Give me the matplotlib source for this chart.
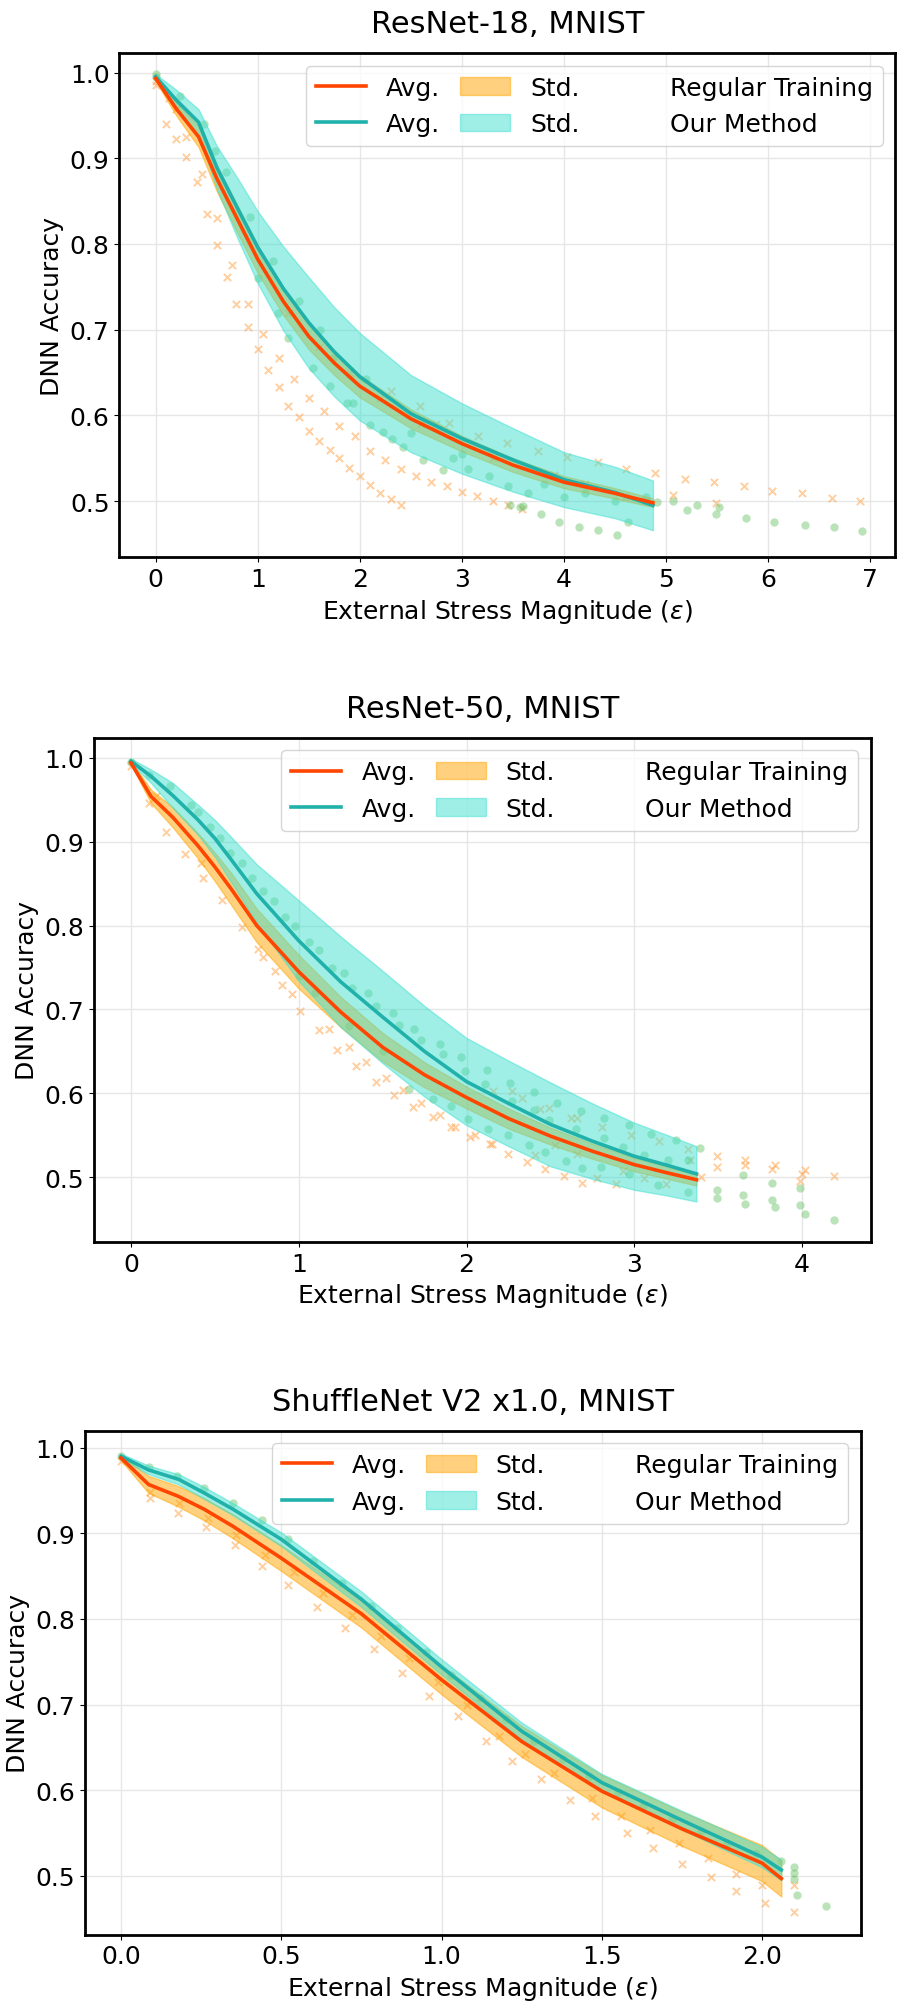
import matplotlib
matplotlib.use('Agg')
import matplotlib.pyplot as plt
from matplotlib.lines import Line2D
from matplotlib.patches import Patch
import numpy as np

plt.rcParams['font.family'] = ['DejaVu Sans']
plt.rcParams['font.size'] = 18

RED = '#FF4500'
TEAL = '#20B2AA'
ORANGE_FILL = '#FFA500'
TEAL_FILL = '#40E0D0'
X_COLOR = '#FFA040'
DOT_COLOR = '#66C266'

# ---------------- ResNet-18 ----------------
r18_x = [0, 0.2, 0.42, 0.6, 0.8, 1.0, 1.25, 1.5, 1.75, 2.0, 2.5, 3.0, 3.5, 4.0, 4.5, 4.87]
r18_reg_mean = [0.993, 0.958, 0.925, 0.876, 0.829, 0.782, 0.733, 0.692, 0.661, 0.634, 0.596, 0.567, 0.542, 0.522, 0.509, 0.498]
r18_reg_std = [0.003, 0.008, 0.012, 0.015, 0.016, 0.016, 0.016, 0.015, 0.014, 0.013, 0.011, 0.009, 0.008, 0.007, 0.006, 0.005]
r18_our_mean = [0.995, 0.968, 0.942, 0.889, 0.842, 0.796, 0.748, 0.708, 0.674, 0.645, 0.602, 0.573, 0.548, 0.525, 0.510, 0.495]
r18_our_std = [0.003, 0.012, 0.015, 0.025, 0.035, 0.042, 0.049, 0.053, 0.052, 0.051, 0.045, 0.041, 0.037, 0.032, 0.030, 0.029]

r18_reg_pts_x = [0.0, 0.0, 0.10, 0.13, 0.2, 0.20, 0.30, 0.30, 0.40, 0.45, 0.50, 0.60, 0.60, 0.70, 0.75,
                 0.79, 0.90, 0.90, 1.0, 1.05, 1.10, 1.21, 1.21, 1.30, 1.35, 1.40, 1.50, 1.50, 1.60, 1.65,
                 1.71, 1.80, 1.80, 1.89, 1.95, 2.0, 2.10, 2.10, 2.20, 2.25, 2.30, 2.30, 2.40, 2.40, 2.55,
                 2.59, 2.70, 2.75, 2.85, 2.87, 3.0, 3.15, 3.16, 3.30, 3.44, 3.45, 3.59, 3.74, 4.03, 4.33,
                 4.61, 4.89, 5.07, 5.18, 5.47, 5.49, 5.76, 6.04, 6.33, 6.62, 6.90,
                 1.3, 1.6, 1.9, 2.2, 2.6, 3.3, 3.9, 4.2, 4.6, 4.8]
r18_reg_pts_y = [0.990, 0.985, 0.940, 0.970, 0.958, 0.922, 0.925, 0.901, 0.872, 0.882, 0.835, 0.830, 0.799, 0.761, 0.775,
                 0.730, 0.730, 0.703, 0.677, 0.695, 0.653, 0.667, 0.633, 0.611, 0.642, 0.598, 0.620, 0.582, 0.570, 0.605,
                 0.560, 0.588, 0.550, 0.539, 0.576, 0.529, 0.558, 0.519, 0.509, 0.548, 0.502, 0.628, 0.495, 0.538, 0.529,
                 0.611, 0.522, 0.590, 0.518, 0.591, 0.511, 0.506, 0.576, 0.500, 0.568, 0.495, 0.491, 0.558, 0.551, 0.546,
                 0.538, 0.533, 0.507, 0.526, 0.522, 0.498, 0.518, 0.512, 0.509, 0.504, 0.500,
                 0.720, 0.680, 0.650, 0.620, 0.590, 0.550, 0.530, 0.520, 0.505, 0.500]
r18_our_pts_x = [0.0, 0.0, 0.24, 0.47, 0.58, 0.69, 0.92, 1.15, 1.40, 1.54, 1.61, 1.71, 1.74, 1.87, 1.93,
                 2.06, 2.10, 2.23, 2.31, 2.42, 2.62, 2.81, 2.91, 3.06, 3.26, 3.45, 3.47, 3.57, 3.60, 3.65,
                 3.77, 3.95, 4.15, 4.33, 4.52, 4.63, 4.91, 5.07, 5.20, 5.30, 5.49, 5.52, 5.78, 6.06, 6.36,
                 6.64, 6.92, 1.0, 1.2, 1.3, 2.5, 3.0, 3.8, 4.0, 4.2, 4.5, 4.8]
r18_our_pts_y = [0.995, 0.998, 0.973, 0.940, 0.909, 0.884, 0.831, 0.780, 0.733, 0.655, 0.700, 0.634, 0.667, 0.614, 0.614,
                 0.643, 0.589, 0.581, 0.573, 0.563, 0.548, 0.536, 0.550, 0.538, 0.529, 0.518, 0.495, 0.493, 0.494, 0.509,
                 0.485, 0.476, 0.470, 0.466, 0.461, 0.476, 0.499, 0.500, 0.490, 0.495, 0.485, 0.493, 0.480, 0.476, 0.472,
                 0.470, 0.465, 0.760, 0.720, 0.690, 0.580, 0.555, 0.520, 0.505, 0.510, 0.500, 0.505]

# ---------------- ResNet-50 ----------------
r50_x = [0, 0.12, 0.25, 0.4, 0.5, 0.6, 0.75, 1.0, 1.25, 1.5, 1.75, 2.0, 2.25, 2.5, 2.75, 3.0, 3.2, 3.37]
r50_reg_mean = [0.994, 0.954, 0.929, 0.895, 0.870, 0.843, 0.800, 0.745, 0.697, 0.655, 0.622, 0.595, 0.570, 0.549, 0.531, 0.515, 0.505, 0.497]
r50_reg_std = [0.002, 0.008, 0.012, 0.015, 0.017, 0.019, 0.020, 0.020, 0.018, 0.017, 0.015, 0.013, 0.012, 0.010, 0.009, 0.008, 0.007, 0.007]
r50_our_mean = [0.996, 0.978, 0.955, 0.926, 0.904, 0.878, 0.838, 0.782, 0.733, 0.691, 0.650, 0.614, 0.588, 0.563, 0.543, 0.525, 0.514, 0.504]
r50_our_std = [0.003, 0.008, 0.015, 0.018, 0.022, 0.027, 0.035, 0.048, 0.054, 0.055, 0.054, 0.052, 0.051, 0.050, 0.045, 0.040, 0.036, 0.033]

r50_reg_pts_x = [0.0, 0.11, 0.15, 0.21, 0.32, 0.42, 0.43, 0.54, 0.66, 0.76, 0.79, 0.86, 0.90, 0.96, 1.01,
                 1.12, 1.18, 1.23, 1.30, 1.34, 1.40, 1.46, 1.52, 1.57, 1.62, 1.68, 1.73, 1.80, 1.84, 1.91,
                 1.93, 2.02, 2.05, 2.14, 2.15, 2.16, 2.25, 2.27, 2.33, 2.36, 2.41, 2.44, 2.47, 2.49, 2.53,
                 2.58, 2.62, 2.66, 2.66, 2.69, 2.78, 2.81, 2.89, 2.93, 2.98, 3.06, 3.15, 3.19, 3.32, 3.33,
                 3.40, 3.49, 3.49, 3.66, 3.66, 3.82, 3.84, 3.99, 4.00, 4.02, 4.19]
r50_reg_pts_y = [0.990, 0.946, 0.955, 0.912, 0.885, 0.875, 0.857, 0.831, 0.798, 0.772, 0.762, 0.746, 0.729, 0.718, 0.698,
                 0.676, 0.677, 0.652, 0.655, 0.632, 0.637, 0.613, 0.618, 0.598, 0.604, 0.584, 0.588, 0.572, 0.574, 0.560,
                 0.560, 0.548, 0.550, 0.540, 0.540, 0.603, 0.528, 0.603, 0.594, 0.518, 0.526, 0.581, 0.510, 0.582, 0.538,
                 0.502, 0.570, 0.570, 0.528, 0.493, 0.499, 0.560, 0.492, 0.507, 0.550, 0.499, 0.543, 0.492, 0.534, 0.521,
                 0.500, 0.525, 0.512, 0.520, 0.514, 0.510, 0.514, 0.496, 0.504, 0.509, 0.501]
r50_our_pts_x = [0.0, 0.11, 0.23, 0.36, 0.40, 0.47, 0.53, 0.59, 0.66, 0.72, 0.79, 0.85, 0.92, 0.98, 1.06,
                 1.12, 1.20, 1.27, 1.32, 1.41, 1.46, 1.56, 1.60, 1.66, 1.69, 1.73, 1.80, 1.84, 1.86, 1.91,
                 1.97, 1.99, 2.01, 2.11, 2.12, 2.13, 2.25, 2.26, 2.27, 2.37, 2.40, 2.40, 2.47, 2.49, 2.54,
                 2.59, 2.65, 2.68, 2.69, 2.80, 2.82, 2.82, 2.93, 2.97, 2.97, 3.06, 3.10, 3.14, 3.20, 3.25,
                 3.32, 3.32, 3.39, 3.49, 3.49, 3.65, 3.65, 3.66, 3.82, 3.82, 3.84, 3.99, 3.99, 4.02, 4.19,
                 1.0, 1.1, 1.3, 1.5]
r50_our_pts_y = [0.995, 0.980, 0.966, 0.944, 0.935, 0.917, 0.905, 0.887, 0.875, 0.857, 0.841, 0.829, 0.810, 0.800, 0.781,
                 0.771, 0.750, 0.744, 0.726, 0.720, 0.704, 0.696, 0.681, 0.605, 0.677, 0.663, 0.593, 0.659, 0.647, 0.585,
                 0.643, 0.627, 0.569, 0.611, 0.628, 0.558, 0.550, 0.612, 0.591, 0.538, 0.601, 0.580, 0.530, 0.568, 0.589,
                 0.519, 0.558, 0.579, 0.511, 0.512, 0.570, 0.547, 0.536, 0.562, 0.504, 0.526, 0.552, 0.491, 0.520, 0.544,
                 0.520, 0.482, 0.535, 0.485, 0.475, 0.503, 0.479, 0.468, 0.493, 0.473, 0.464, 0.487, 0.467, 0.456, 0.449,
                 0.740, 0.720, 0.680, 0.650]

# ---------------- ShuffleNet V2 ----------------
sn_x = [0, 0.086, 0.18, 0.26, 0.35, 0.5, 0.75, 1.0, 1.25, 1.5, 1.75, 2.0, 2.06]
sn_reg_mean = [0.988, 0.957, 0.943, 0.928, 0.908, 0.871, 0.806, 0.729, 0.657, 0.599, 0.555, 0.515, 0.497]
sn_reg_std = [0.003, 0.010, 0.012, 0.013, 0.014, 0.015, 0.016, 0.017, 0.018, 0.019, 0.020, 0.021, 0.021]
sn_our_mean = [0.990, 0.974, 0.963, 0.947, 0.928, 0.893, 0.823, 0.744, 0.669, 0.609, 0.565, 0.522, 0.507]
sn_our_std = [0.003, 0.005, 0.006, 0.007, 0.007, 0.008, 0.009, 0.009, 0.010, 0.010, 0.011, 0.012, 0.012]

sn_reg_pts_x = [0.0, 0.089, 0.09, 0.177, 0.18, 0.266, 0.27, 0.357, 0.36, 0.44, 0.45, 0.52, 0.54, 0.61, 0.63,
                0.70, 0.72, 0.79, 0.81, 0.876, 0.90, 0.96, 0.99, 1.05, 1.08, 1.14, 1.18, 1.22, 1.26, 1.31,
                1.35, 1.40, 1.47, 1.48, 1.56, 1.58, 1.65, 1.66, 1.74, 1.75, 1.83, 1.84, 1.92, 1.92, 2.0,
                2.01, 2.10, 2.10]
sn_reg_pts_y = [0.985, 0.941, 0.948, 0.924, 0.935, 0.907, 0.918, 0.886, 0.898, 0.862, 0.875, 0.840, 0.855, 0.814, 0.830,
                0.790, 0.805, 0.765, 0.780, 0.737, 0.755, 0.710, 0.727, 0.687, 0.700, 0.658, 0.663, 0.634, 0.642, 0.613,
                0.620, 0.589, 0.591, 0.570, 0.570, 0.550, 0.554, 0.533, 0.539, 0.514, 0.521, 0.499, 0.502, 0.483, 0.489,
                0.469, 0.489, 0.458]
sn_our_pts_x = [0.0, 0.086, 0.175, 0.26, 0.35, 0.44, 0.52, 0.60, 0.69, 0.78, 0.86, 0.95, 1.03, 1.12, 1.20,
                1.29, 1.38, 1.46, 1.55, 1.63, 1.72, 1.81, 1.89, 1.98, 2.06, 2.10, 2.10, 2.10, 2.11, 2.20]
sn_our_pts_y = [0.990, 0.977, 0.967, 0.953, 0.935, 0.915, 0.893, 0.868, 0.842, 0.815, 0.790, 0.762, 0.735, 0.708, 0.683,
                0.658, 0.636, 0.617, 0.598, 0.582, 0.567, 0.552, 0.539, 0.527, 0.517, 0.511, 0.503, 0.496, 0.478, 0.465]


def draw_panel(ax, title, x, reg_mean, reg_std, our_mean, our_std,
               reg_px, reg_py, our_px, our_py, xlim, ylim, xticks):
    x = np.array(x)
    reg_mean, reg_std = np.array(reg_mean), np.array(reg_std)
    our_mean, our_std = np.array(our_mean), np.array(our_std)

    ax.grid(True, color='#e6e6e6', linewidth=1, zorder=0)
    ax.set_axisbelow(True)

    ax.scatter(reg_px, reg_py, marker='x', s=28, color=X_COLOR, alpha=0.5, linewidths=1.4, zorder=2)
    ax.scatter(our_px, our_py, marker='o', s=36, color=DOT_COLOR, alpha=0.45, linewidths=0, zorder=2)

    ax.fill_between(x, reg_mean - reg_std, reg_mean + reg_std, color=ORANGE_FILL, alpha=0.5, zorder=3)
    ax.fill_between(x, our_mean - our_std, our_mean + our_std, color=TEAL_FILL, alpha=0.5, zorder=3)

    ax.plot(x, our_mean, color=TEAL, lw=2.6, zorder=4)
    ax.plot(x, reg_mean, color=RED, lw=2.6, zorder=5)

    ax.set_xlim(*xlim)
    ax.set_ylim(*ylim)
    ax.set_xticks(xticks)
    ax.set_yticks([0.5, 0.6, 0.7, 0.8, 0.9, 1.0])
    ax.tick_params(labelsize=18)
    ax.set_xlabel(r'External Stress Magnitude ($\varepsilon$)', fontsize=18)
    ax.set_ylabel('DNN Accuracy', fontsize=18)
    ax.set_title(title, fontsize=22, pad=15)
    for sp in ax.spines.values():
        sp.set_linewidth(2)

    h_avg_r = Line2D([], [], color=RED, lw=2.6)
    h_avg_t = Line2D([], [], color=TEAL, lw=2.6)
    h_std_r = Patch(facecolor=ORANGE_FILL, edgecolor=ORANGE_FILL, alpha=0.5)
    h_std_t = Patch(facecolor=TEAL_FILL, edgecolor=TEAL_FILL, alpha=0.5)
    blank = Line2D([], [], linestyle='none')
    ax.legend([h_avg_r, h_avg_t, h_std_r, h_std_t, blank, blank],
              ['Avg.', 'Avg.', 'Std.', 'Std.', 'Regular Training', 'Our Method'],
              ncol=3, loc='upper right', fontsize=18, columnspacing=0.8)


fig = plt.figure(figsize=(9.04, 20.08), dpi=100)
ax1 = fig.add_axes([0.132, 0.722, 0.8585, 0.251])
ax2 = fig.add_axes([0.104, 0.381, 0.859, 0.251])
ax3 = fig.add_axes([0.0938, 0.036, 0.8584, 0.251])

draw_panel(ax1, 'ResNet-18, MNIST', r18_x, r18_reg_mean, r18_reg_std, r18_our_mean, r18_our_std,
           r18_reg_pts_x, r18_reg_pts_y, r18_our_pts_x, r18_our_pts_y,
           (-0.356, 7.245), (0.4345, 1.0225), range(0, 8))
draw_panel(ax2, 'ResNet-50, MNIST', r50_x, r50_reg_mean, r50_reg_std, r50_our_mean, r50_our_std,
           r50_reg_pts_x, r50_reg_pts_y, r50_our_pts_x, r50_our_pts_y,
           (-0.22, 4.408), (0.4228, 1.0237), range(0, 5))
draw_panel(ax3, 'ShuffleNet V2 x1.0, MNIST', sn_x, sn_reg_mean, sn_reg_std, sn_our_mean, sn_our_std,
           sn_reg_pts_x, sn_reg_pts_y, sn_our_pts_x, sn_our_pts_y,
           (-0.113, 2.308), (0.4314, 1.0198), [0.0, 0.5, 1.0, 1.5, 2.0])

fig.savefig('out.png', dpi=100)
